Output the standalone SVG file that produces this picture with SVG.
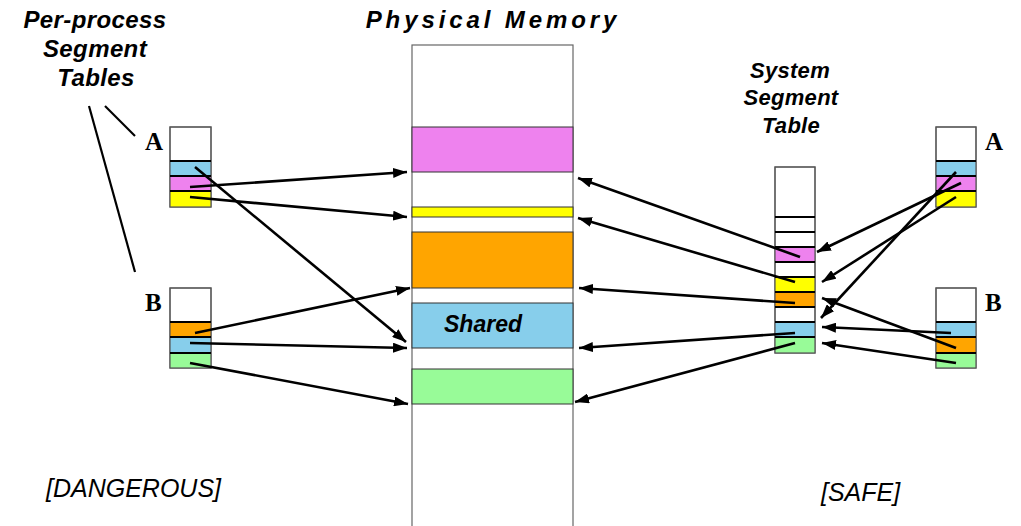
<svg xmlns="http://www.w3.org/2000/svg" width="1021" height="526" viewBox="0 0 1021 526">
<defs>
<marker id="ah" markerWidth="14" markerHeight="10" refX="14" refY="5" orient="auto" markerUnits="userSpaceOnUse">
<path d="M0,0 L14,5 L0,10 z" fill="#000"/>
</marker>
<style>
.lbl{font-family:"Liberation Sans",Arial,sans-serif;font-weight:bold;font-style:italic;fill:#000}
.note{font-family:"Liberation Sans",Arial,sans-serif;font-style:italic;font-size:25px;fill:#000}
.let{font-family:"Liberation Serif","Times New Roman",serif;font-weight:bold;font-size:25px;fill:#000}
.outer{fill:#fff;stroke:#666;stroke-width:1.2}
.sep{stroke:#000;stroke-width:2.2}
.seg{stroke:#333;stroke-width:1}
.arr{stroke:#000;stroke-width:2.6;fill:none;marker-end:url(#ah)}
.thin{stroke:#000;stroke-width:2.2;fill:none}
.pk{fill:#EE82EE}.bl{fill:#87CEEB}.ye{fill:#FFFF00}.or{fill:#FFA500}.gr{fill:#98FB98}
</style>
</defs>
<rect width="1021" height="526" fill="#fff"/>

<g id="labels">
<text class="lbl" font-size="24" letter-spacing="0.4" text-anchor="middle"><tspan x="95" y="28">Per-process</tspan><tspan x="95" y="57">Segment</tspan><tspan x="96" y="86">Tables</tspan></text>
<line class="thin" x1="89" y1="106" x2="135" y2="272"/>
<line class="thin" x1="105" y1="106" x2="135" y2="136"/>
<text class="lbl" x="493" y="28" font-size="24" letter-spacing="3.9" text-anchor="middle">Physical Memory</text>
<text class="lbl" font-size="22" letter-spacing="0.3" text-anchor="middle"><tspan x="790" y="78">System</tspan><tspan x="791" y="105">Segment</tspan><tspan x="791" y="133">Table</tspan></text>
<text class="note" x="46" y="497">[DANGEROUS]</text>
<text class="note" x="821" y="501">[SAFE]</text>
</g>

<g id="physical-memory">
<rect x="412" y="45" width="161" height="500" fill="#fff" stroke="#666" stroke-width="1.2"/>
<rect class="seg pk" x="412" y="127" width="161" height="45"/>
<rect class="seg ye" x="412" y="207" width="161" height="10"/>
<rect class="seg or" x="412" y="232" width="161" height="56"/>
<rect class="seg bl" x="412" y="303" width="161" height="45"/>
<rect class="seg gr" x="412" y="369" width="161" height="35"/>
<text class="lbl" x="483" y="332" font-size="23" text-anchor="middle">Shared</text>
</g>

<g id="left-table-A">
<text class="let" x="145" y="150">A</text>
<rect class="outer" x="170" y="127" width="41" height="80"/>
<rect class="bl" x="170" y="161" width="41" height="15"/>
<rect class="pk" x="170" y="176" width="41" height="15"/>
<rect class="ye" x="170" y="191" width="41" height="16"/>
<rect x="170" y="127" width="41" height="80" fill="none" stroke="#555" stroke-width="1.2"/>
<line class="sep" x1="170" y1="161" x2="211" y2="161"/>
<line class="sep" x1="170" y1="176" x2="211" y2="176"/>
<line class="sep" x1="170" y1="191" x2="211" y2="191"/>
</g>

<g id="left-table-B">
<text class="let" x="145" y="311">B</text>
<rect class="outer" x="170" y="288" width="41" height="80"/>
<rect class="or" x="170" y="322" width="41" height="15"/>
<rect class="bl" x="170" y="337" width="41" height="16"/>
<rect class="gr" x="170" y="353" width="41" height="15"/>
<rect x="170" y="288" width="41" height="80" fill="none" stroke="#555" stroke-width="1.2"/>
<line class="sep" x1="170" y1="322" x2="211" y2="322"/>
<line class="sep" x1="170" y1="337" x2="211" y2="337"/>
<line class="sep" x1="170" y1="353" x2="211" y2="353"/>
</g>

<g id="system-table">
<rect class="outer" x="775" y="167" width="40" height="186"/>
<rect class="pk" x="775" y="247" width="40" height="15"/>
<rect class="ye" x="775" y="277" width="40" height="15"/>
<rect class="or" x="775" y="292" width="40" height="15"/>
<rect class="bl" x="775" y="322" width="40" height="15"/>
<rect class="gr" x="775" y="337" width="40" height="16"/>
<rect x="775" y="167" width="40" height="186" fill="none" stroke="#555" stroke-width="1.2"/>
<line class="sep" x1="775" y1="217" x2="815" y2="217"/>
<line class="sep" x1="775" y1="232" x2="815" y2="232"/>
<line class="sep" x1="775" y1="247" x2="815" y2="247"/>
<line class="sep" x1="775" y1="262" x2="815" y2="262"/>
<line class="sep" x1="775" y1="277" x2="815" y2="277"/>
<line class="sep" x1="775" y1="292" x2="815" y2="292"/>
<line class="sep" x1="775" y1="307" x2="815" y2="307"/>
<line class="sep" x1="775" y1="322" x2="815" y2="322"/>
<line class="sep" x1="775" y1="337" x2="815" y2="337"/>
</g>

<g id="right-table-A">
<text class="let" x="985" y="150">A</text>
<rect class="outer" x="936" y="127" width="40" height="80"/>
<rect class="bl" x="936" y="161" width="40" height="15"/>
<rect class="pk" x="936" y="176" width="40" height="15"/>
<rect class="ye" x="936" y="191" width="40" height="16"/>
<rect x="936" y="127" width="40" height="80" fill="none" stroke="#555" stroke-width="1.2"/>
<line class="sep" x1="936" y1="161" x2="976" y2="161"/>
<line class="sep" x1="936" y1="176" x2="976" y2="176"/>
<line class="sep" x1="936" y1="191" x2="976" y2="191"/>
</g>

<g id="right-table-B">
<text class="let" x="985" y="311">B</text>
<rect class="outer" x="936" y="288" width="40" height="80"/>
<rect class="bl" x="936" y="322" width="40" height="15"/>
<rect class="or" x="936" y="337" width="40" height="16"/>
<rect class="gr" x="936" y="353" width="40" height="15"/>
<rect x="936" y="288" width="40" height="80" fill="none" stroke="#555" stroke-width="1.2"/>
<line class="sep" x1="936" y1="322" x2="976" y2="322"/>
<line class="sep" x1="936" y1="337" x2="976" y2="337"/>
<line class="sep" x1="936" y1="353" x2="976" y2="353"/>
</g>

<g id="connectors">
<line class="arr" x1="195" y1="167" x2="406" y2="342"/>
<line class="arr" x1="190" y1="187" x2="407" y2="172"/>
<line class="arr" x1="190" y1="197" x2="407" y2="217"/>
<line class="arr" x1="195" y1="333" x2="410" y2="288"/>
<line class="arr" x1="190" y1="343" x2="407" y2="348"/>
<line class="arr" x1="190" y1="363" x2="408" y2="404"/>
<line class="arr" x1="800" y1="257" x2="578" y2="178"/>
<line class="arr" x1="795" y1="282" x2="578" y2="218"/>
<line class="arr" x1="795" y1="303" x2="579" y2="288"/>
<line class="arr" x1="795" y1="333" x2="579" y2="348"/>
<line class="arr" x1="795" y1="343" x2="575" y2="402"/>
<line class="arr" x1="956" y1="172" x2="821" y2="318"/>
<line class="arr" x1="961" y1="183" x2="817" y2="252"/>
<line class="arr" x1="956" y1="197" x2="822" y2="282"/>
<line class="arr" x1="951" y1="333" x2="822" y2="327"/>
<line class="arr" x1="956" y1="348" x2="822" y2="298"/>
<line class="arr" x1="956" y1="363" x2="822" y2="343"/>
</g>
</svg>
